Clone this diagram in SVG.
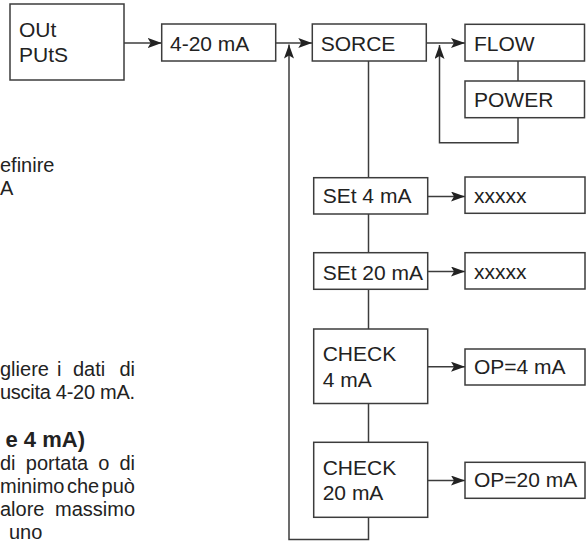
<svg xmlns="http://www.w3.org/2000/svg" width="588" height="541" viewBox="0 0 588 541">
<defs>
<style>
.box{fill:#fff;stroke:#3c3c3c;stroke-width:1.5}
.lbl{font-family:"Liberation Sans",Arial,sans-serif;font-size:21px;fill:#222}
.con{fill:none;stroke:#3c3c3c;stroke-width:1.5}
.para{font-family:"Liberation Sans",Arial,sans-serif;font-size:20px;fill:#222}
.head{font-family:"Liberation Sans",Arial,sans-serif;font-size:22px;font-weight:bold;fill:#222}
</style>
<marker id="ah" viewBox="0 0 14 10" refX="14" refY="5" markerWidth="14" markerHeight="10" markerUnits="userSpaceOnUse" orient="auto">
<path d="M0,0 L14,5 L0,10 L3,5 z" fill="#222"/>
</marker>
</defs>
<rect width="588" height="541" fill="#fff"/>

<g id="side-text">
<text class="para" font-size="19" x="0" y="171.7">efinire</text>
<text class="para" font-size="19" x="0" y="195">A</text>
<text class="para" y="375.7"><tspan x="0">gliere</tspan><tspan x="57">i</tspan><tspan x="73">dati</tspan><tspan x="119.4">di</tspan></text>
<text class="para" x="0" y="398.7" textLength="135" lengthAdjust="spacing">uscita 4-20 mA.</text>
<text class="head" x="85" y="446.5" text-anchor="end">e 4 mA)</text>
<text class="para" y="469.5"><tspan x="0">di</tspan><tspan x="25.8">portata</tspan><tspan x="98.3">o</tspan><tspan x="119.4">di</tspan></text>
<text class="para" y="492.5"><tspan x="0">minimo</tspan><tspan x="67">che</tspan><tspan x="101.6">può</tspan></text>
<text class="para" y="515.5"><tspan x="0">alore</tspan><tspan x="55">massimo</tspan></text>
<text class="para" x="9" y="538.5">uno</text>
</g>

<g id="connectors">
<path class="con" d="M124,43 H161.7" marker-end="url(#ah)"/>
<path class="con" d="M275.7,43 H312.3" marker-end="url(#ah)"/>
<path class="con" d="M368.5,517.3 V539.5 H289 V44.5" marker-end="url(#ah)"/>
<path class="con" d="M426.3,43 H465" marker-end="url(#ah)"/>
<path class="con" d="M518,61 V81"/>
<path class="con" d="M518,117.7 V142.7 H439.5 V45" marker-end="url(#ah)"/>
<path class="con" d="M368.5,61 V177.7"/>
<path class="con" d="M427.7,196.5 H465" marker-end="url(#ah)"/>
<path class="con" d="M368.5,214 V252.7"/>
<path class="con" d="M427.7,271.5 H465" marker-end="url(#ah)"/>
<path class="con" d="M368.5,289.3 V329"/>
<path class="con" d="M427.7,366.7 H465" marker-end="url(#ah)"/>
<path class="con" d="M368.5,403.5 V442.3"/>
<path class="con" d="M427.7,480.5 H465" marker-end="url(#ah)"/>
</g>

<g id="outputs"><rect class="box" x="10" y="4" width="114" height="76"/><text class="lbl" x="19" y="36.7">OUt</text><text class="lbl" x="19" y="62.3">PUtS</text></g>
<g id="mA420"><rect class="box" x="161.7" y="24" width="114" height="37"/><text class="lbl" x="170" y="51">4-20 mA</text></g>
<g id="sorce"><rect class="box" x="312.3" y="24" width="114" height="37"/><text class="lbl" x="320.7" y="50.7">SORCE</text></g>
<g id="flow"><rect class="box" x="465" y="24.3" width="119.5" height="36.7"/><text class="lbl" x="474" y="50.7">FLOW</text></g>
<g id="power"><rect class="box" x="465" y="81" width="119.5" height="36.7"/><text class="lbl" x="474" y="107.3">POWER</text></g>
<g id="set4"><rect class="box" x="313.7" y="177.7" width="114" height="36.3"/><text class="lbl" x="322.7" y="203.3">SEt 4 mA</text></g>
<g id="val4"><rect class="box" x="465" y="177" width="120" height="36.3"/><text class="lbl" x="474" y="203.3">xxxxx</text></g>
<g id="set20"><rect class="box" x="313.7" y="252.7" width="114" height="36.6"/><text class="lbl" x="322.7" y="279.5">SEt 20 mA</text></g>
<g id="val20"><rect class="box" x="465" y="252.7" width="120" height="36.3"/><text class="lbl" x="474" y="279.3">xxxxx</text></g>
<g id="check4"><rect class="box" x="313.7" y="329" width="114" height="74.5"/><text class="lbl" x="322.7" y="361">CHECK</text><text class="lbl" x="322.7" y="386.7">4 mA</text></g>
<g id="op4"><rect class="box" x="465" y="349" width="120" height="36"/><text class="lbl" x="474" y="374">OP=4 mA</text></g>
<g id="check20"><rect class="box" x="313.7" y="442.3" width="114" height="75"/><text class="lbl" x="322.7" y="475">CHECK</text><text class="lbl" x="322.7" y="500">20 mA</text></g>
<g id="op20"><rect class="box" x="465" y="462.3" width="120" height="36"/><text class="lbl" x="474" y="487.3">OP=20 mA</text></g>
</svg>
